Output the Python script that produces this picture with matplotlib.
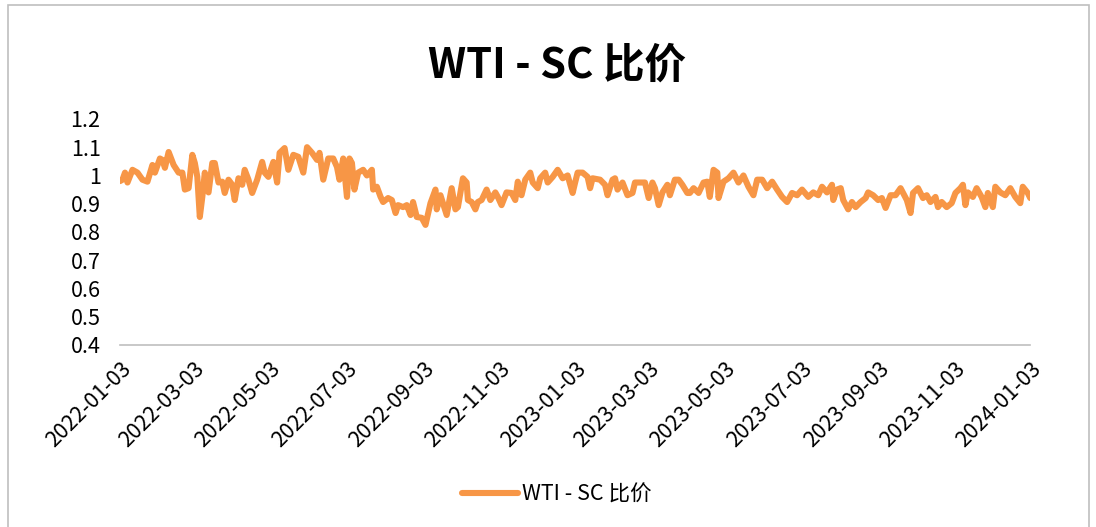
import pandas as pd
import matplotlib.pyplot as plt
from matplotlib.patches import Rectangle

plt.rcParams['font.family'] = ['Noto Sans CJK SC', 'DejaVu Sans']

# Days since 2022-01-03 and the WTI/SC ratio
day_offsets = [
    0, 2, 4, 6, 10, 14, 18, 22, 26, 28, 32, 34, 36, 39, 43, 47, 50, 52, 55, 58,
    60, 62, 64, 66, 68, 71, 74, 76, 79, 82, 84, 87, 90, 92, 95, 98, 100, 103, 106, 110,
    114, 116, 119, 123, 126, 128, 132, 135, 139, 143, 147, 150, 154, 158, 160, 163, 167, 171, 174, 176,
    179, 182, 184, 186, 188, 191, 195, 198, 202, 203, 206, 209, 211, 215, 218, 221, 223, 227, 230, 233,
    235, 238, 242, 245, 249, 253, 254, 257, 259, 262, 266, 269, 271, 275, 278, 279, 282, 285, 287, 290,
    294, 297, 301, 303, 306, 310, 314, 317, 319, 322, 325, 329, 331, 335, 337, 341, 343, 347, 351, 355,
    359, 363, 365, 367, 371, 375, 377, 379, 385, 389, 391, 395, 397, 399, 403, 407, 411, 413, 417, 421,
    424, 427, 429, 432, 435, 439, 441, 445, 448, 451, 455, 457, 460, 464, 468, 471, 473, 476, 479, 480,
    484, 488, 492, 496, 500, 504, 508, 511, 515, 519, 523, 527, 531, 535, 539, 543, 547, 552, 556, 560,
    563, 567, 571, 572, 575, 578, 580, 584, 587, 590, 594, 598, 600, 604, 608, 611, 614, 618, 622, 626,
    628, 631, 634, 636, 640, 644, 647, 650, 654, 656, 659, 663, 667, 670, 674, 676, 678, 680, 684, 687,
    691, 694, 696, 700, 702, 706, 710, 714, 718, 722, 724, 728, 730,
]
ratio = [
    0.98, 0.985, 1.01, 0.975, 1.02, 1.01, 0.985, 0.978, 1.037, 1.01, 1.06, 1.055, 1.027, 1.083, 1.037, 1.01, 1.01, 0.95, 0.955, 1.073,
    1.044, 0.995, 0.853, 0.924, 1.01, 0.94, 1.044, 1.044, 0.975, 0.978, 0.938, 0.985, 0.967, 0.913, 0.99, 0.967, 1.02, 0.985, 0.938, 0.985,
    1.048, 1.01, 0.995, 1.048, 0.975, 1.08, 1.097, 1.02, 1.073, 1.066, 1.01, 1.10, 1.08, 1.055, 1.08, 0.985, 1.06, 1.06, 1.03, 0.985,
    1.06, 0.924, 1.06, 1.044, 0.95, 1.01, 1.02, 1.0, 1.02, 0.95, 0.96, 0.924, 0.906, 0.92, 0.913, 0.867, 0.895, 0.888, 0.895, 0.86,
    0.906, 0.853, 0.85, 0.825, 0.902, 0.95, 0.88, 0.93, 0.902, 0.86, 0.955, 0.88, 0.888, 0.99, 0.975, 0.913, 0.906, 0.88, 0.906, 0.913,
    0.95, 0.913, 0.94, 0.924, 0.895, 0.94, 0.938, 0.913, 0.978, 0.93, 0.985, 1.01, 0.975, 0.955, 0.99, 1.01, 0.975, 0.995, 1.02, 0.99,
    1.0, 0.938, 0.975, 1.01, 1.01, 0.995, 0.955, 0.99, 0.985, 0.967, 0.93, 0.985, 0.99, 0.95, 0.975, 0.93, 0.938, 0.975, 0.975, 0.975,
    0.92, 0.975, 0.955, 0.895, 0.94, 0.967, 0.93, 0.985, 0.985, 0.967, 0.938, 0.938, 0.955, 0.938, 0.975, 0.978, 0.924, 1.02, 1.01, 0.92,
    0.978, 0.99, 1.01, 0.975, 1.0, 0.96, 0.93, 0.985, 0.985, 0.955, 0.978, 0.95, 0.924, 0.906, 0.938, 0.93, 0.95, 0.924, 0.94, 0.93,
    0.96, 0.94, 0.967, 0.913, 0.95, 0.955, 0.913, 0.88, 0.906, 0.888, 0.906, 0.92, 0.94, 0.93, 0.913, 0.92, 0.885, 0.93, 0.93, 0.955,
    0.938, 0.913, 0.867, 0.938, 0.955, 0.92, 0.93, 0.906, 0.924, 0.888, 0.906, 0.888, 0.902, 0.938, 0.955, 0.967, 0.895, 0.94, 0.924, 0.955,
    0.924, 0.888, 0.938, 0.888, 0.96, 0.94, 0.93, 0.955, 0.924, 0.902, 0.96, 0.938, 0.92,
]
tick_labels = ['2022-01-03', '2022-03-03', '2022-05-03', '2022-07-03', '2022-09-03', '2022-11-03',
               '2023-01-03', '2023-03-03', '2023-05-03', '2023-07-03', '2023-09-03', '2023-11-03',
               '2024-01-03']
y_ticks = [0.4, 0.5, 0.6, 0.7, 0.8, 0.9, 1.0, 1.1, 1.2]

start = pd.Timestamp('2022-01-03')
dates = [start + pd.Timedelta(days=d) for d in day_offsets]
tick_dates = pd.to_datetime(tick_labels)

fig = plt.figure(figsize=(10.96, 5.27), dpi=100)
ax = fig.add_axes([0.1095, 0.3454, 0.8305, 0.4289])

ax.plot(dates, ratio, color='#F79646', linewidth=4.4, solid_capstyle='round',
        solid_joinstyle='round', label='WTI - SC 比价')

ax.set_ylim(0.4, 1.2)
ax.set_yticks(y_ticks)
ax.set_yticklabels(['0.4', '0.5', '0.6', '0.7', '0.8', '0.9', '1', '1.1', '1.2'])
ax.set_xlim(tick_dates[0], tick_dates[-1])
ax.set_xticks(tick_dates)
ax.set_xticklabels(tick_labels, rotation=45, ha='right', rotation_mode='anchor')
ax.tick_params(axis='both', length=0, labelsize=15.5, colors='#000000')
ax.tick_params(axis='y', pad=14)
ax.tick_params(axis='x', pad=9)

for side in ['left', 'right', 'top']:
    ax.spines[side].set_visible(False)
ax.spines['bottom'].set_color('#BFBFBF')
ax.spines['bottom'].set_linewidth(1.2)

fig.text(0.508, 0.876, 'WTI - SC 比价', ha='center', va='center',
         fontsize=30, fontweight='bold')

fig.legend(loc='center', bbox_to_anchor=(0.508, 0.062), frameon=False,
           fontsize=15.5, handlelength=2.6, handletextpad=0.2)

fig.patches.append(Rectangle((8 / 1096, -0.02), 1081 / 1096, 1.01, transform=fig.transFigure,
                             fill=False, edgecolor='#BFBFBF', linewidth=1.2))

fig.savefig('out.png', dpi=100)
